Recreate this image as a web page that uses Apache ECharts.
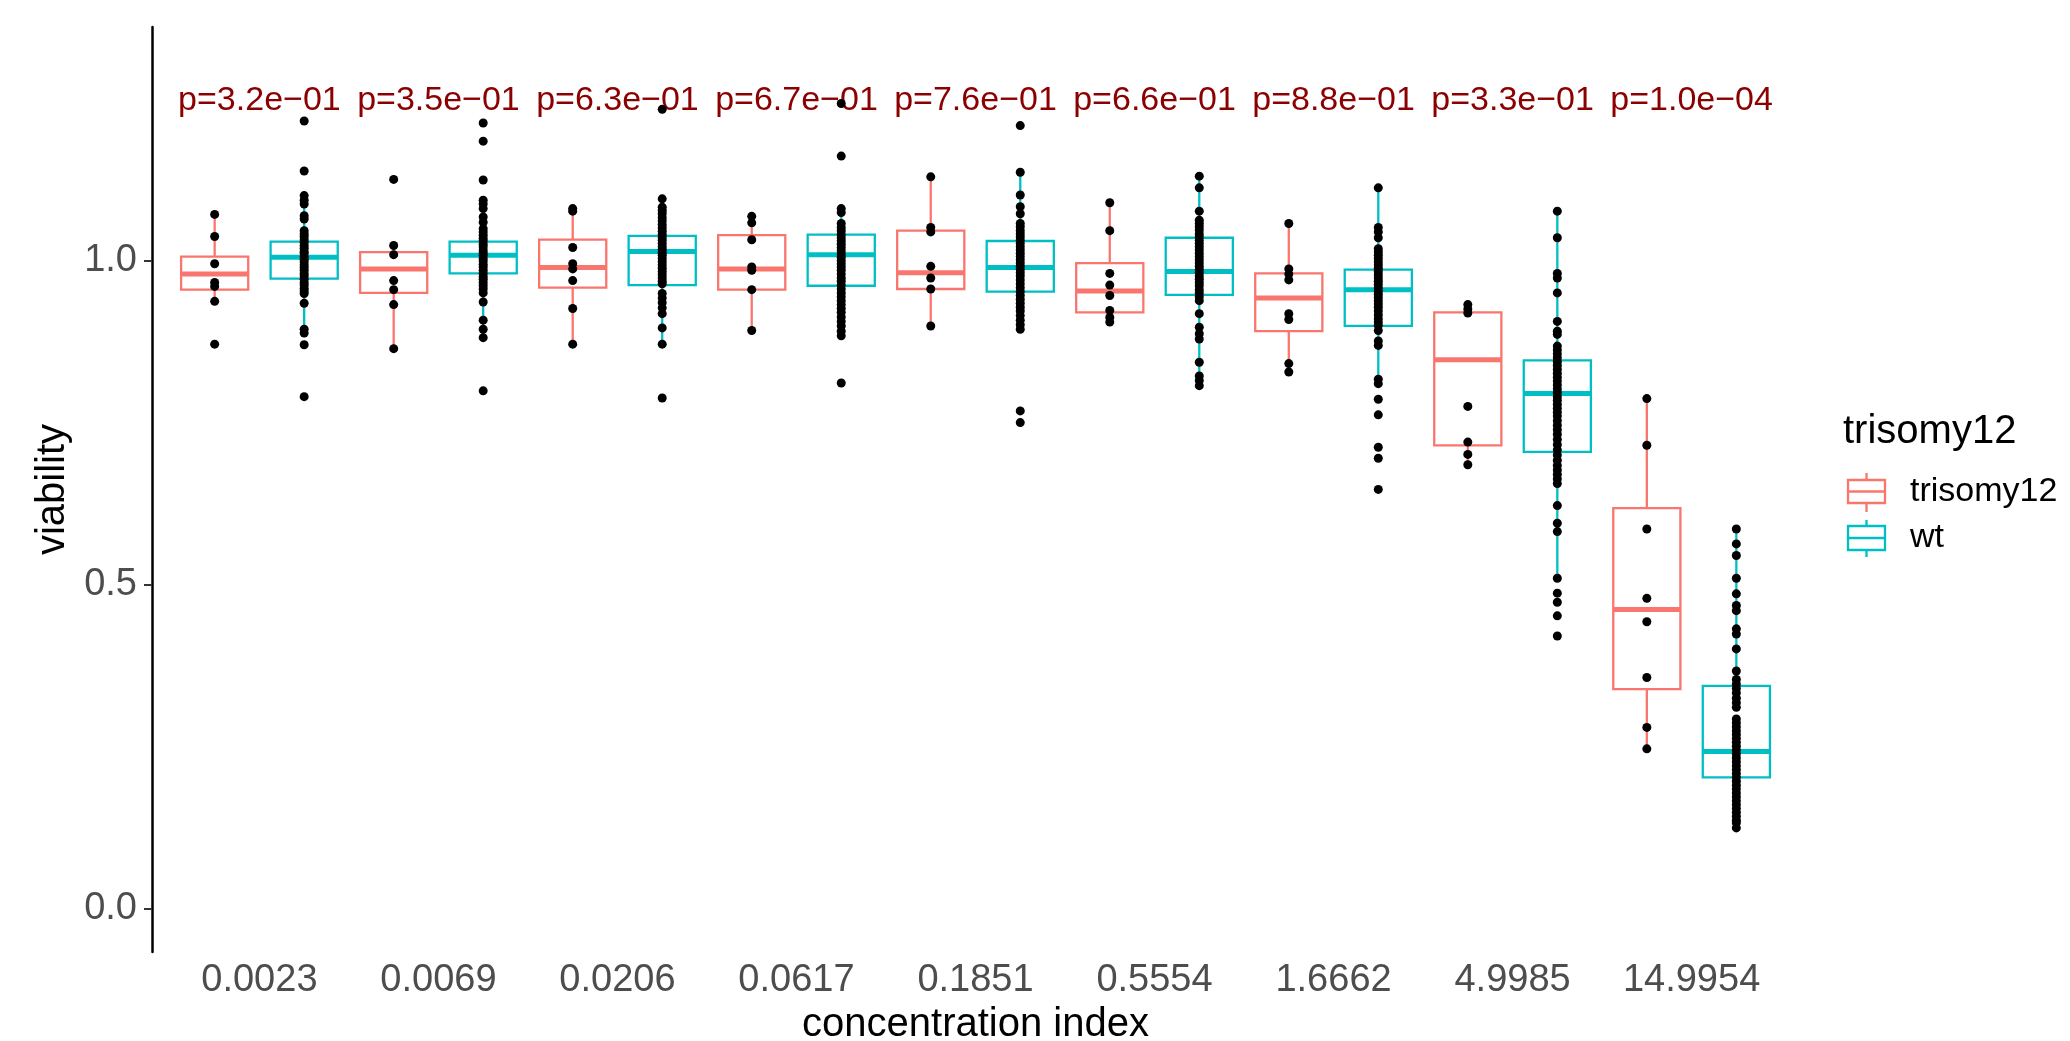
<!DOCTYPE html>
<html><head><meta charset="utf-8">
<script src="https://cdn.jsdelivr.net/npm/echarts@6/dist/echarts.min.js"></script>
<style>html,body{margin:0;padding:0;background:#fff}#c{width:2070px;height:1041px}</style>
</head><body><div id="c"></div>
<script>
// ---- data ----
const categories = ['0.0023','0.0069','0.0206','0.0617','0.1851','0.5554','1.6662','4.9985','14.9954'];
const pLabels = ['p=3.2e\u221201','p=3.5e\u221201','p=6.3e\u221201','p=6.7e\u221201','p=7.6e\u221201','p=6.6e\u221201','p=8.8e\u221201','p=3.3e\u221201','p=1.0e\u221204'];
const pLabelY = 1.247;
const yTicks = [0, 0.5, 1.0];
const groupNames = ['trisomy12', 'wt'];
// [lower whisker, Q1, median, Q3, upper whisker]
const trisomyStats = [
  [0.937, 0.955, 0.979, 1.006, 1.071],
  [0.864, 0.950, 0.987, 1.013, 1.023],
  [0.871, 0.958, 0.989, 1.032, 1.080],
  [0.892, 0.955, 0.987, 1.039, 1.068],
  [0.899, 0.956, 0.981, 1.046, 1.129],
  [0.905, 0.920, 0.953, 0.996, 1.089],
  [0.828, 0.891, 0.942, 0.980, 1.057],
  [0.685, 0.715, 0.847, 0.920, 0.932],
  [0.247, 0.339, 0.462, 0.618, 0.787]
];
const wtStats = [
  [0.888, 0.972, 1.005, 1.029, 1.100],
  [0.881, 0.980, 1.008, 1.029, 1.093],
  [0.871, 0.962, 1.014, 1.038, 1.095],
  [0.884, 0.961, 1.009, 1.040, 1.080],
  [0.894, 0.952, 0.989, 1.030, 1.136],
  [0.807, 0.947, 0.983, 1.035, 1.130],
  [0.810, 0.899, 0.955, 0.986, 1.112],
  [0.510, 0.705, 0.795, 0.846, 1.076],
  [0.125, 0.203, 0.243, 0.344, 0.586]
];
const trisomyPoints = [
  [1.071, 1.037, 0.995, 0.966, 0.960, 0.937, 0.871],
  [1.125, 1.023, 1.009, 0.969, 0.955, 0.932, 0.864],
  [1.080, 1.076, 1.020, 0.995, 0.987, 0.969, 0.926, 0.871],
  [1.068, 1.058, 1.032, 0.990, 0.985, 0.955, 0.892],
  [1.129, 1.051, 1.044, 0.991, 0.973, 0.956, 0.899],
  [1.089, 1.046, 0.980, 0.962, 0.946, 0.923, 0.912, 0.905],
  [1.057, 0.987, 0.979, 0.970, 0.918, 0.909, 0.841, 0.828],
  [0.932, 0.925, 0.919, 0.775, 0.720, 0.701, 0.685],
  [0.787, 0.715, 0.586, 0.479, 0.443, 0.357, 0.280, 0.247]
];
const wtPoints = [
  [1.215, 1.138, 1.100, 1.093, 1.087, 1.069, 1.064, 1.046, 1.041, 1.037, 1.032, 1.028, 1.023, 1.019, 1.014, 1.011, 1.006, 1.002, 0.998, 0.993, 0.989, 0.985, 0.980, 0.976, 0.971, 0.966, 0.962, 0.957, 0.953, 0.949, 0.934, 0.894, 0.888, 0.870, 0.790],
  [1.212, 1.184, 1.124, 1.093, 1.087, 1.080, 1.067, 1.059, 1.049, 1.044, 1.039, 1.034, 1.030, 1.025, 1.021, 1.016, 1.012, 1.008, 1.003, 0.999, 0.994, 0.990, 0.985, 0.980, 0.975, 0.971, 0.966, 0.961, 0.956, 0.950, 0.936, 0.908, 0.894, 0.881, 0.799],
  [1.233, 1.095, 1.082, 1.077, 1.072, 1.066, 1.061, 1.055, 1.050, 1.045, 1.040, 1.035, 1.031, 1.026, 1.021, 1.017, 1.012, 1.008, 1.003, 0.998, 0.993, 0.988, 0.983, 0.978, 0.973, 0.968, 0.964, 0.949, 0.942, 0.935, 0.927, 0.918, 0.896, 0.871, 0.788],
  [1.242, 1.161, 1.080, 1.074, 1.057, 1.051, 1.046, 1.040, 1.035, 1.030, 1.025, 1.020, 1.015, 1.010, 1.005, 1.000, 0.995, 0.990, 0.985, 0.979, 0.973, 0.968, 0.962, 0.956, 0.950, 0.944, 0.938, 0.932, 0.926, 0.920, 0.913, 0.906, 0.899, 0.891, 0.884, 0.811],
  [1.208, 1.136, 1.101, 1.083, 1.072, 1.057, 1.052, 1.046, 1.041, 1.036, 1.031, 1.026, 1.021, 1.016, 1.011, 1.006, 1.001, 0.996, 0.991, 0.986, 0.981, 0.976, 0.970, 0.964, 0.958, 0.952, 0.946, 0.940, 0.934, 0.928, 0.922, 0.915, 0.908, 0.901, 0.894, 0.768, 0.750],
  [1.130, 1.112, 1.076, 1.062, 1.057, 1.052, 1.047, 1.041, 1.036, 1.031, 1.026, 1.021, 1.016, 1.011, 1.006, 1.001, 0.996, 0.991, 0.986, 0.981, 0.976, 0.971, 0.966, 0.961, 0.955, 0.950, 0.944, 0.938, 0.918, 0.897, 0.887, 0.879, 0.843, 0.822, 0.815, 0.807],
  [1.112, 1.051, 1.044, 1.035, 1.018, 1.013, 1.008, 1.003, 0.998, 0.993, 0.988, 0.983, 0.978, 0.973, 0.968, 0.963, 0.958, 0.953, 0.948, 0.943, 0.938, 0.933, 0.928, 0.922, 0.916, 0.910, 0.905, 0.900, 0.892, 0.876, 0.869, 0.817, 0.810, 0.786, 0.762, 0.712, 0.695, 0.647],
  [1.076, 1.035, 0.980, 0.973, 0.950, 0.906, 0.891, 0.886, 0.868, 0.862, 0.856, 0.850, 0.844, 0.838, 0.832, 0.826, 0.820, 0.814, 0.808, 0.802, 0.796, 0.790, 0.784, 0.778, 0.772, 0.766, 0.760, 0.753, 0.746, 0.739, 0.732, 0.724, 0.716, 0.708, 0.700, 0.692, 0.684, 0.677, 0.670, 0.663, 0.656, 0.622, 0.595, 0.582, 0.510, 0.487, 0.473, 0.452, 0.421],
  [0.586, 0.563, 0.545, 0.510, 0.486, 0.468, 0.460, 0.432, 0.424, 0.401, 0.367, 0.354, 0.347, 0.340, 0.333, 0.325, 0.318, 0.311, 0.293, 0.287, 0.281, 0.275, 0.269, 0.263, 0.257, 0.251, 0.245, 0.239, 0.233, 0.227, 0.221, 0.215, 0.209, 0.203, 0.197, 0.191, 0.185, 0.179, 0.173, 0.167, 0.161, 0.155, 0.149, 0.143, 0.137, 0.133, 0.125]
];

// ---- styling ----
const COLORS = ['#F8766D', '#00BFC4'];
const DODGE = 0.25, BOX_W = 0.375;
const FONT = "'Liberation Sans', Arial, Helvetica, sans-serif";

function boxData(stats, off) {
  return stats.map((s, i) => [i + 1 + off].concat(s));
}
function pointData(pts, off) {
  const out = [];
  pts.forEach((arr, i) => arr.forEach(v => out.push([i + 1 + off, v])));
  return out;
}
function makeBoxRenderer(color) {
  return function (params, api) {
    const x = api.value(0);
    const lo = api.coord([x, api.value(1)]);
    const q1 = api.coord([x, api.value(2)]);
    const md = api.coord([x, api.value(3)]);
    const q3 = api.coord([x, api.value(4)]);
    const hi = api.coord([x, api.value(5)]);
    const w = api.size([BOX_W, 0])[0];
    const cx = lo[0];
    const lw = 2.3;
    return {
      type: 'group',
      children: [
        { type: 'line', shape: { x1: cx, y1: q3[1], x2: cx, y2: hi[1] }, style: { stroke: color, lineWidth: lw } },
        { type: 'line', shape: { x1: cx, y1: q1[1], x2: cx, y2: lo[1] }, style: { stroke: color, lineWidth: lw } },
        { type: 'rect', shape: { x: cx - w / 2, y: q3[1], width: w, height: q1[1] - q3[1] }, style: { fill: '#fff', stroke: color, lineWidth: lw } },
        { type: 'line', shape: { x1: cx - w / 2, y1: md[1], x2: cx + w / 2, y2: md[1] }, style: { stroke: color, lineWidth: 5 } }
      ]
    };
  };
}

const chart = echarts.init(document.getElementById('c'), null, { renderer: 'canvas' });
const option = {
  animation: false,
  backgroundColor: '#ffffff',
  textStyle: { fontFamily: FONT },
  grid: { left: 152, right: 271, top: 27, bottom: 89, containLabel: false, outerBoundsMode: 'none' },
  xAxis: {
    type: 'value', min: 0.4, max: 9.6,
    name: 'concentration index', nameLocation: 'middle', nameGap: 52,
    nameTextStyle: { fontSize: 40, color: '#000', fontFamily: FONT },
    axisLine: { show: false }, axisTick: { show: false }, splitLine: { show: false },
    axisLabel: {
      customValues: categories.map((c, i) => i + 1),
      formatter: v => categories[Math.round(v) - 1],
      fontSize: 38, color: '#4D4D4D', margin: 10, fontFamily: FONT
    }
  },
  yAxis: {
    type: 'value', min: -0.0663, max: 1.360,
    name: 'viability', nameLocation: 'middle', nameGap: 70, nameRotate: 90,
    nameTextStyle: { fontSize: 40, color: '#000', fontFamily: FONT },
    axisLine: { show: true, lineStyle: { color: '#000', width: 2.5 } },
    axisTick: { show: true, customValues: yTicks, length: 8, lineStyle: { color: '#333', width: 2 } },
    splitLine: { show: false },
    axisLabel: {
      customValues: yTicks, formatter: v => v.toFixed(1),
      fontSize: 38, color: '#4D4D4D', margin: 15, fontFamily: FONT
    }
  },
  series: [
    { name: groupNames[0], type: 'custom', renderItem: makeBoxRenderer(COLORS[0]), data: boxData(trisomyStats, -DODGE), z: 2, encode: { x: 0, y: [1, 2, 3, 4, 5] } },
    { name: groupNames[1], type: 'custom', renderItem: makeBoxRenderer(COLORS[1]), data: boxData(wtStats, DODGE), z: 2, encode: { x: 0, y: [1, 2, 3, 4, 5] } },
    {
      type: 'custom', z: 3,
      data: pLabels.map((t, i) => [i + 1, pLabelY]),
      renderItem: function (params, api) {
        const p = api.coord([api.value(0), api.value(1)]);
        return { type: 'text', x: p[0], y: p[1], style: { text: pLabels[params.dataIndex], fill: '#8B0000', font: '34px ' + FONT, align: 'center', verticalAlign: 'middle' } };
      }
    },
    { type: 'scatter', data: pointData(trisomyPoints, -DODGE), symbolSize: 9, itemStyle: { color: '#000', opacity: 1 }, z: 4 },
    { type: 'scatter', data: pointData(wtPoints, DODGE), symbolSize: 9, itemStyle: { color: '#000', opacity: 1 }, z: 4 }
  ],
  graphic: [
    { type: 'text', left: 1843, top: 412, style: { text: 'trisomy12', font: '40px ' + FONT, fill: '#000' } },
    // red key
    { type: 'line', shape: { x1: 1866.5, y1: 473, x2: 1866.5, y2: 512 }, style: { stroke: COLORS[0], lineWidth: 2.3 } },
    { type: 'rect', shape: { x: 1848, y: 480, width: 37, height: 23 }, style: { fill: '#fff', stroke: COLORS[0], lineWidth: 2.3 } },
    { type: 'line', shape: { x1: 1848, y1: 491.5, x2: 1885, y2: 491.5 }, style: { stroke: COLORS[0], lineWidth: 2.3 } },
    { type: 'text', left: 1910, top: 475, style: { text: groupNames[0], font: '34px ' + FONT, fill: '#000' } },
    // cyan key
    { type: 'line', shape: { x1: 1866.5, y1: 520, x2: 1866.5, y2: 557 }, style: { stroke: COLORS[1], lineWidth: 2.3 } },
    { type: 'rect', shape: { x: 1848, y: 526, width: 37, height: 24 }, style: { fill: '#fff', stroke: COLORS[1], lineWidth: 2.3 } },
    { type: 'line', shape: { x1: 1848, y1: 538, x2: 1885, y2: 538 }, style: { stroke: COLORS[1], lineWidth: 2.3 } },
    { type: 'text', left: 1910, top: 521, style: { text: groupNames[1], font: '34px ' + FONT, fill: '#000' } }
  ]
};
chart.setOption(option);
</script>
</body></html>
